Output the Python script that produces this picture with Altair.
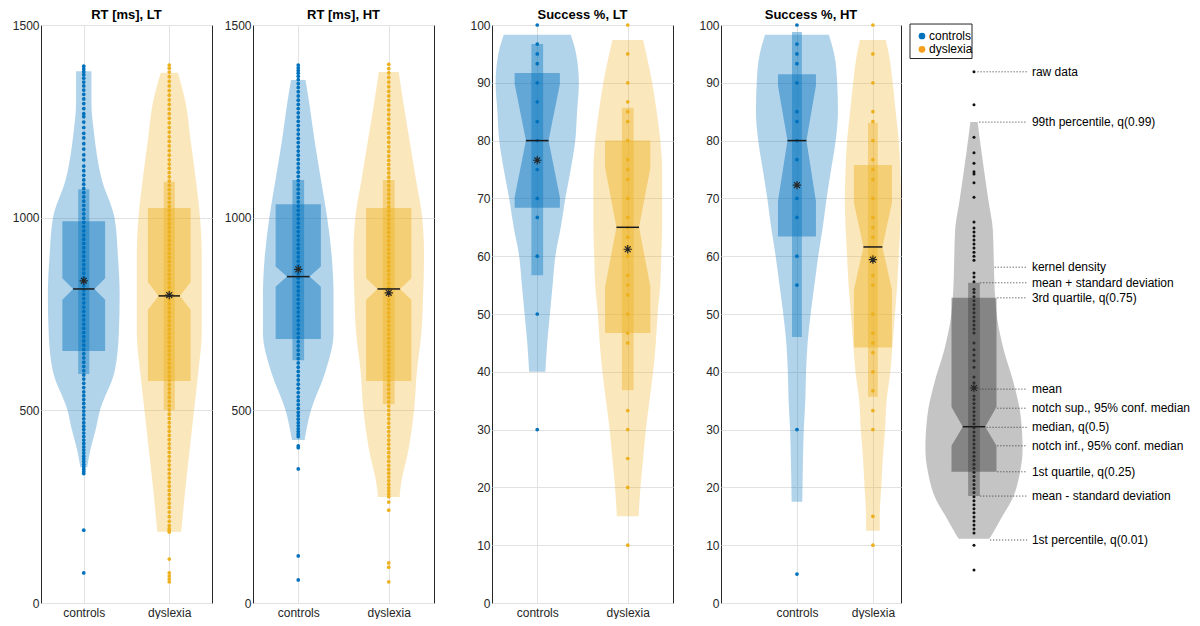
import altair as alt
import pandas as pd

FONT = "Liberation Sans"
GROUPS = ["controls", "dyslexia"]
COLORS = ["#0072BD", "#EDB120"]
LEGEND_COLORS = ["#0072BD", "#F59F1C"]
CENTERS = [1, 2]

# ---------------- violin profiles (value, half-width in category units) ----------------
RT_LT_CTRL_VY = [352, 400, 450, 500, 600, 700, 800, 900, 1000, 1100, 1220, 1300, 1380]
RT_LT_CTRL_VW = [0.04, 0.08, 0.14, 0.19, 0.36, 0.41, 0.42, 0.40, 0.36, 0.21, 0.12, 0.09, 0.09]
RT_LT_DYS_VY = [185, 300, 400, 500, 600, 700, 800, 900, 1000, 1100, 1200, 1300, 1376]
RT_LT_DYS_VW = [0.14, 0.19, 0.24, 0.29, 0.34, 0.38, 0.38, 0.38, 0.36, 0.31, 0.25, 0.19, 0.10]

RT_HT_CTRL_VY = [423, 500, 600, 700, 800, 900, 1000, 1100, 1200, 1300, 1357]
RT_HT_CTRL_VW = [0.07, 0.14, 0.30, 0.39, 0.39, 0.37, 0.32, 0.25, 0.18, 0.12, 0.08]
RT_HT_DYS_VY = [275, 300, 400, 500, 600, 700, 800, 900, 1000, 1100, 1200, 1300, 1378]
RT_HT_DYS_VW = [0.12, 0.13, 0.22, 0.28, 0.31, 0.36, 0.38, 0.39, 0.37, 0.30, 0.23, 0.16, 0.11]

SU_LT_CTRL_VY = [40, 45, 50, 55, 60, 65, 70, 75, 80, 85, 90, 95, 98.3]
SU_LT_CTRL_VW = [0.09, 0.11, 0.14, 0.17, 0.20, 0.26, 0.31, 0.37, 0.42, 0.44, 0.46, 0.43, 0.37]
SU_LT_DYS_VY = [15, 20, 25, 30, 35, 40, 45, 50, 55, 60, 65, 70, 75, 80, 85, 90, 97.4]
SU_LT_DYS_VW = [0.12, 0.14, 0.17, 0.20, 0.24, 0.28, 0.31, 0.33, 0.36, 0.37, 0.38, 0.38, 0.38, 0.36, 0.32, 0.27, 0.17]

SU_HT_CTRL_VY = [17.5, 25, 30, 35, 40, 45, 50, 55, 60, 65, 70, 75, 80, 85, 90, 95, 98.3]
SU_HT_CTRL_VW = [0.07, 0.08, 0.09, 0.11, 0.12, 0.14, 0.18, 0.23, 0.28, 0.34, 0.39, 0.45, 0.51, 0.54, 0.53, 0.49, 0.42]
SU_HT_DYS_VY = [12.5, 15, 20, 25, 30, 35, 40, 45, 50, 55, 60, 65, 70, 75, 80, 85, 90, 95, 97.4]
SU_HT_DYS_VW = [0.09, 0.09, 0.11, 0.13, 0.16, 0.18, 0.23, 0.26, 0.29, 0.32, 0.34, 0.36, 0.37, 0.36, 0.34, 0.30, 0.26, 0.21, 0.17]

EX_VY = [11.1, 12.1, 14.9, 17.8, 22.5, 26.5, 32.2, 38.1, 43.8, 49.0, 54.2, 59.3, 64.5, 69.7, 78.4, 83.2]
EX_VW = [0.17, 0.21, 0.31, 0.42, 0.51, 0.54, 0.52, 0.44, 0.33, 0.26, 0.23, 0.22, 0.21, 0.16, 0.08, 0.04]

# ---------------- summary stats: q25, notch inf, median, notch sup, q75, mean, mean-sd, mean+sd ----------------
RT_LT_CTRL_STATS = [654, 787, 815, 843, 991, 836, 594, 1074]
RT_LT_DYS_STATS = [576, 761, 797, 833, 1025, 799, 501, 1093]
RT_HT_CTRL_STATS = [685, 821, 847, 873, 1035, 866, 630, 1098]
RT_HT_DYS_STATS = [576, 787, 815, 843, 1025, 805, 516, 1098]
SU_LT_CTRL_STATS = [68.4, 70.2, 80, 89.8, 91.7, 76.6, 56.7, 96.7]
SU_LT_DYS_STATS = [46.7, 54.7, 65, 75.3, 80, 61.2, 36.8, 85.7]
SU_HT_CTRL_STATS = [63.4, 69.5, 80, 89.5, 91.5, 72.3, 46, 98.8]
SU_HT_DYS_STATS = [44.2, 54.2, 61.6, 69.2, 75.8, 59.4, 35.7, 83.1]
EX_STATS = [22.7, 27.2, 30.5, 33.9, 52.8, 37.2, 18.5, 55.4]

# ---------------- raw data ----------------
RT_LT_CTRL_RAW = [78, 189, 336, 341, 347, 353, 360, 367, 374, 381, 389, 397, 405, 414, 423, 432,
                  441, 450, 459, 468, 478, 488, 498, 508, 518, 528, 538, 548, 559, 570, 581, 592,
                  603, 614, 625, 636, 647, 658, 669, 680, 691, 702, 713, 724, 735, 746, 757, 768,
                  779, 790, 801, 812, 823, 834, 845, 856, 867, 878, 889, 900, 911, 922, 933, 944,
                  955, 966, 977, 988, 999, 1010, 1021, 1032, 1043, 1054, 1065, 1076, 1087, 1098,
                  1110, 1122, 1134, 1150, 1163, 1178, 1192, 1207, 1219, 1234, 1248, 1262, 1270,
                  1283, 1296, 1308, 1320, 1331, 1342, 1352, 1362, 1371, 1379, 1386, 1393]
RT_LT_DYS_RAW = [55, 62, 70, 78, 114, 184, 188, 193, 201, 212, 224, 236, 248, 259, 270, 281, 292,
                 303, 314, 325, 336, 347, 358, 369, 380, 391, 402, 413, 424, 435, 446, 457, 468,
                 479, 490, 501, 512, 523, 534, 545, 556, 567, 578, 589, 600, 611, 622, 633, 644,
                 655, 666, 677, 688, 699, 710, 721, 732, 743, 754, 765, 776, 787, 798, 809, 820,
                 831, 842, 853, 864, 875, 886, 897, 908, 919, 930, 941, 952, 963, 974, 985, 996,
                 1007, 1018, 1029, 1040, 1051, 1062, 1073, 1084, 1095, 1106, 1117, 1128, 1139,
                 1150, 1162, 1174, 1186, 1198, 1210, 1222, 1234, 1246, 1258, 1270, 1282, 1294,
                 1306, 1318, 1330, 1342, 1354, 1366, 1378, 1388, 1396]
RT_HT_CTRL_RAW = [60, 122, 348, 403, 408, 432, 438, 445, 452, 460, 468, 477, 486, 495, 505, 515,
                  525, 535, 546, 557, 568, 579, 590, 601, 612, 623, 634, 645, 656, 667, 678, 689,
                  700, 711, 722, 733, 744, 755, 766, 777, 788, 799, 810, 821, 832, 843, 854, 865,
                  876, 887, 898, 909, 920, 931, 942, 953, 964, 975, 986, 997, 1008, 1019, 1030,
                  1041, 1052, 1063, 1074, 1085, 1096, 1107, 1118, 1129, 1140, 1151, 1162, 1173,
                  1184, 1195, 1206, 1217, 1228, 1239, 1250, 1261, 1272, 1283, 1294, 1305, 1316,
                  1327, 1338, 1348, 1358, 1367, 1375, 1382, 1389, 1396]
RT_HT_DYS_RAW = [55, 93, 104, 241, 262, 276, 283, 291, 299, 308, 317, 327, 337, 347, 357, 368,
                 379, 390, 401, 412, 423, 434, 445, 456, 467, 478, 489, 500, 511, 522, 533, 544,
                 555, 566, 577, 588, 599, 610, 621, 632, 643, 654, 665, 676, 687, 698, 709, 720,
                 731, 742, 753, 764, 775, 786, 797, 808, 819, 830, 841, 852, 863, 874, 885, 896,
                 907, 918, 929, 940, 951, 962, 973, 984, 995, 1006, 1017, 1028, 1039, 1050, 1061,
                 1072, 1083, 1094, 1105, 1116, 1127, 1138, 1149, 1160, 1172, 1184, 1196, 1208,
                 1220, 1232, 1244, 1256, 1268, 1280, 1292, 1304, 1316, 1328, 1340, 1352, 1364,
                 1376, 1387, 1398]
SU_LT_CTRL_RAW = [30, 50, 60, 66.7, 70, 75, 76.7, 80, 83.3, 86.7, 90, 93.3, 95, 96.7, 100]
SU_LT_DYS_RAW = [10, 20, 25, 30, 33.3, 45, 46.7, 50, 53.3, 55, 56.7, 60, 61.7, 63.3, 65, 66.7,
                 70, 73.3, 75, 76.7, 80, 83.3, 85, 86.7, 90, 95, 100]
SU_HT_CTRL_RAW = [5, 30, 55, 60, 66.7, 70, 76.7, 80, 83.3, 85, 90, 93.3, 95, 96.7, 100]
SU_HT_DYS_RAW = [10, 15, 30, 33.3, 36.7, 40, 43.3, 45, 46.7, 50, 55, 56.7, 60, 63.3, 65, 66.7,
                 70, 73.3, 75, 76.7, 80, 83.3, 85, 90, 95, 100]
EX_RAW = [5.7, 10.0, 12.1, 12.8, 13.5, 14.2, 14.9, 15.6, 16.3, 17.0, 17.7, 18.4, 19.1, 19.8,
          20.5, 21.2, 21.9, 22.6, 23.3, 24.0, 24.7, 25.4, 26.1, 26.8, 27.5, 28.2, 28.9, 29.6,
          30.3, 31.0, 31.7, 32.4, 33.1, 33.8, 34.5, 35.2, 35.8, 37.2, 38.1, 39.1, 40.8, 41.9,
          42.9, 43.8, 45.0, 46.7, 47.4, 48.1, 48.8, 49.5, 50.2, 50.9, 51.6, 52.3, 53.0, 53.7,
          54.3, 55.6, 56.4, 57.1, 59.3, 60.0, 60.7, 61.4, 62.1, 62.8, 63.5, 64.2, 64.9, 65.9,
          70.2, 72.7, 74.2, 74.6, 76.1, 77.9, 80.6, 86.2, 91.9]

EX_LABELS = ["raw data", "99th percentile, q(0.99)", "kernel density", "mean + standard deviation",
             "3rd quartile, q(0.75)", "mean", "notch sup., 95% conf. median", "median, q(0.5)",
             "notch inf., 95% conf. median", "1st quartile, q(0.25)", "mean - standard deviation",
             "1st percentile, q(0.01)"]
EX_LABEL_Y = [91.9, 83.2, 58.1, 55.4, 52.8, 37.0, 33.7, 30.4, 27.2, 22.7, 18.5, 10.9]
EX_LEADER_FROM = [0.04, 0.06, 0.23, 0.07, 0.26, 0.06, 0.26, 0.14, 0.26, 0.26, 0.07, 0.18]

RT_TICKS = [0, 500, 1000, 1500]
SU_TICKS = [0, 10, 20, 30, 40, 50, 60, 70, 80, 90, 100]

# ---------------- styles / layout ----------------
PLOT_H = 578
BOX_HW = 0.25
NOTCH_HW = 0.125
BAR_HW = 0.065
MED_HW = 0.125
ASTERISK = "M0,-1L0,1M-1,0L1,0M-0.7,-0.7L0.7,0.7M-0.7,0.7L0.7,-0.7"
TEXT_COL = "#262626"
TITLE_OFFSET = -3
LEADER_END = 0.59
LABEL_X = 0.644
LEG_BOX = {"x0": -0.711, "x1": -0.022, "y0": 94.2, "y1": 100.17}
LEG_DOT_X = -0.578
LEG_TEXT_X = -0.50
LEG_ROW_Y = [98.1, 95.8]


def group_layers(center, color, ptcolor, vy, vw, stats, raw, X, Y, ptsize):
    q25, ninf, med, nsup, q75, mean, lo, hi = stats
    bw = [BOX_HW, BOX_HW, NOTCH_HW, BOX_HW, BOX_HW]
    by = [q25, ninf, med, nsup, q75]
    v = pd.DataFrame({"y": vy, "xl": [center - w for w in vw], "xr": [center + w for w in vw]})
    b = pd.DataFrame({"y": by, "xl": [center - w for w in bw], "xr": [center + w for w in bw]})
    r = pd.DataFrame({"xc": center, "y": raw})
    s = pd.DataFrame([{"xc": center, "bl": center - BAR_HW, "br": center + BAR_HW,
                       "ml": center - MED_HW, "mr": center + MED_HW, "lo": lo, "hi": hi,
                       "med": med, "mean": mean}])
    violin = alt.Chart(v).mark_area(orient="horizontal", color=color, opacity=0.3,
                                    interpolate="monotone").encode(y=Y("y"), x=X("xl"), x2="xr")
    pts = alt.Chart(r).mark_circle(size=ptsize, opacity=1, color=ptcolor).encode(x=X("xc"), y=Y("y"))
    box = alt.Chart(b).mark_area(orient="horizontal", color=color, opacity=0.45).encode(
        y=Y("y"), x=X("xl"), x2="xr")
    bar = alt.Chart(s).mark_rect(color=color, opacity=0.4).encode(x=X("bl"), x2="br", y=Y("lo"), y2="hi")
    medl = alt.Chart(s).mark_rule(color="#1a1a1a", strokeWidth=1.5).encode(x=X("ml"), x2="mr", y=Y("med"))
    meanp = alt.Chart(s).mark_point(shape=ASTERISK, size=70, filled=False, color=TEXT_COL,
                                    strokeWidth=1.2, opacity=1).encode(x=X("xc"), y=Y("mean"))
    return [violin, pts, box, bar, medl, meanp]


def panel(title, vys, vws, statss, raws, ydom, yticks, xdom, width, extent):
    xs = alt.Scale(domain=xdom, nice=False, zero=False)
    ys = alt.Scale(domain=ydom, nice=False, zero=False)
    xax = alt.Axis(values=[1, 2], labelExpr="datum.value == 1 ? 'controls' : 'dyslexia'",
                   ticks=False, domain=False, grid=True, title=None, labelPadding=4)
    yax = alt.Axis(values=yticks, format="d", ticks=False, domain=False, grid=True, title=None,
                   labelPadding=2, minExtent=extent, maxExtent=extent)

    def X(f):
        return alt.X(f, type="quantitative", scale=xs, axis=xax)

    def Y(f):
        return alt.Y(f, type="quantitative", scale=ys, axis=yax)

    layers = []
    for c, col, vy, vw, st, raw in zip(CENTERS, COLORS, vys, vws, statss, raws):
        layers += group_layers(c, col, col, vy, vw, st, raw, X, Y, 14)
    return alt.layer(*layers).properties(
        width=width, height=PLOT_H,
        title=alt.TitleParams(title, frame="group", anchor="middle", offset=TITLE_OFFSET))


p1 = panel("RT [ms], LT", [RT_LT_CTRL_VY, RT_LT_DYS_VY], [RT_LT_CTRL_VW, RT_LT_DYS_VW],
           [RT_LT_CTRL_STATS, RT_LT_DYS_STATS], [RT_LT_CTRL_RAW, RT_LT_DYS_RAW],
           [0, 1500], RT_TICKS, [0.5, 2.5], 171, 32)
p2 = panel("RT [ms], HT", [RT_HT_CTRL_VY, RT_HT_DYS_VY], [RT_HT_CTRL_VW, RT_HT_DYS_VW],
           [RT_HT_CTRL_STATS, RT_HT_DYS_STATS], [RT_HT_CTRL_RAW, RT_HT_DYS_RAW],
           [0, 1500], RT_TICKS, [0.5, 2.5], 181, 39)
p3 = panel("Success %, LT", [SU_LT_CTRL_VY, SU_LT_DYS_VY], [SU_LT_CTRL_VW, SU_LT_DYS_VW],
           [SU_LT_CTRL_STATS, SU_LT_DYS_STATS], [SU_LT_CTRL_RAW, SU_LT_DYS_RAW],
           [0, 100], SU_TICKS, [0.5, 2.5], 181, 56)
p4 = panel("Success %, HT", [SU_HT_CTRL_VY, SU_HT_DYS_VY], [SU_HT_CTRL_VW, SU_HT_DYS_VW],
           [SU_HT_CTRL_STATS, SU_HT_DYS_STATS], [SU_HT_CTRL_RAW, SU_HT_DYS_RAW],
           [0, 100], SU_TICKS, [0, 2.37], 180, 46)

# ---------------- annotated example violin + legend ----------------
exs = alt.Scale(domain=[-0.8, 2.367], nice=False, zero=False)
eys = alt.Scale(domain=[0, 100], nice=False, zero=False)


def EX(f):
    return alt.X(f, type="quantitative", scale=exs, axis=None)


def EY(f):
    return alt.Y(f, type="quantitative", scale=eys, axis=None)


ex_layers = group_layers(0, "#3a3a3a", "#111111", EX_VY, EX_VW, EX_STATS, EX_RAW, EX, EY, 9)
lab = pd.DataFrame({"label": EX_LABELS, "y": EX_LABEL_Y, "x0": EX_LEADER_FROM,
                    "x1": LEADER_END, "xt": LABEL_X})
leaders = alt.Chart(lab).mark_rule(strokeDash=[1, 2], color="#333333", strokeWidth=1).encode(
    x=EX("x0"), x2="x1", y=EY("y"))
texts = alt.Chart(lab).mark_text(align="left", baseline="middle", font=FONT, fontSize=12,
                                 color="#000000").encode(x=EX("xt"), y=EY("y"), text="label:N")

leg_box = alt.Chart(pd.DataFrame([LEG_BOX])).mark_rect(
    fill="white", stroke=TEXT_COL, strokeWidth=1).encode(x=EX("x0"), x2="x1", y=EY("y0"), y2="y1")
leg = pd.DataFrame({"group": GROUPS, "color": LEGEND_COLORS, "y": LEG_ROW_Y,
                    "xd": LEG_DOT_X, "xt": LEG_TEXT_X})
leg_dots = alt.Chart(leg).mark_circle(size=45, opacity=1).encode(
    x=EX("xd"), y=EY("y"), color=alt.Color("color:N", scale=None))
leg_text = alt.Chart(leg).mark_text(align="left", baseline="middle", font=FONT, fontSize=12,
                                    color="#000000").encode(x=EX("xt"), y=EY("y"), text="group:N")

ex = alt.layer(*ex_layers, leaders, texts, leg_box, leg_dots, leg_text).properties(
    width=285, height=PLOT_H, title=alt.TitleParams(" ", frame="group", offset=TITLE_OFFSET),
    view=alt.ViewBackground(strokeOpacity=0))

chart = alt.hconcat(p1, p2, p3, p4, ex, spacing=0).resolve_scale(
    x="independent", y="independent"
).properties(padding=0).configure_view(stroke=TEXT_COL, strokeWidth=1).configure_axis(
    labelFont=FONT, labelFontSize=12, labelColor=TEXT_COL, gridColor="#e2e2e2", gridWidth=1
).configure_title(font=FONT, fontSize=13, fontWeight="bold", color="#000000")

chart.save("out.html", embed_options={"renderer": "svg", "actions": False})
